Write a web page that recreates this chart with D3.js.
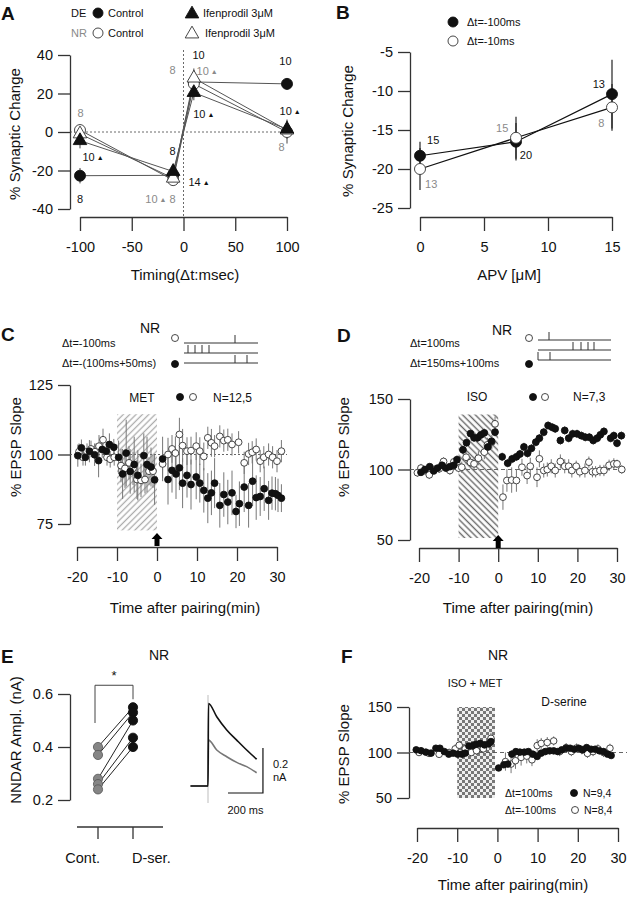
<!DOCTYPE html>
<html><head><meta charset="utf-8">
<script src="https://cdn.jsdelivr.net/npm/d3@7"></script>
<style>body{margin:0;background:#fff} svg{display:block}</style>
</head><body><svg id="c" width="627" height="900"></svg>
<script>
// ---------------- DATA ----------------
// Panel A
const aTiming = [-100, -10, 10, 100];
const aDECtrl = [-22.7, -22.5, 26, 25];
const aDECtrlErr = [4, 2, 3, 3];
const aNRCtrl = [1, -25, 25, 0];
const aNRCtrlErr = [3, 3, 7, 6];
const aDEIfen = [-4.5, -20.5, 20.5, 1.5];
const aDEIfenErr = [4, 3, 4, 5];
const aNRIfen = [-1, -24, 28, 1];
const aNRIfenErr = [2, 3, 5, 3];
const aXTicks = [-100, -50, 0, 50, 100];
const aYTicks = [-40, -20, 0, 20, 40];
const aLabels = [
  {t:-99.5, v:9.8, txt:"8", tri:false, gray:true, anchor:"middle"},
  {t:-97.6, v:-13, txt:"10", tri:true, gray:false, anchor:"start"},
  {t:-100, v:-35, txt:"8", tri:false, gray:false, anchor:"middle"},
  {t:-10.6, v:-10, txt:"8", tri:false, gray:false, anchor:"middle"},
  {t:-16.4, v:-35, txt:"10", tri:true, gray:true, anchor:"end"},
  {t:-10.6, v:-35, txt:"8", tri:false, gray:true, anchor:"middle"},
  {t:4.8, v:-26, txt:"14", tri:true, gray:false, anchor:"start"},
  {t:14.5, v:39.8, txt:"10", tri:false, gray:false, anchor:"middle"},
  {t:-10.6, v:32, txt:"8", tri:false, gray:true, anchor:"middle"},
  {t:12.6, v:31.5, txt:"10", tri:true, gray:true, anchor:"start"},
  {t:9.4, v:9.3, txt:"10", tri:true, gray:false, anchor:"start"},
  {t:98.5, v:37, txt:"10", tri:false, gray:false, anchor:"middle"},
  {t:92.8, v:10.9, txt:"10", tri:true, gray:false, anchor:"start"},
  {t:94.7, v:-7.8, txt:"8", tri:false, gray:true, anchor:"middle"}
];
// Panel B
const bAPV = [0, 7.5, 15];
const b100 = [-18.3, -16.5, -10.4];
const b100Err = [1.8, 2.4, 4.4];
const b10 = [-20, -16, -12.1];
const b10Err = [2.7, 2.7, 3];
const bXTicks = [0, 5, 10, 15];
const bYTicks = [-25, -20, -15, -10, -5];
const bLabels = [
  {apv:0.55, v:-16.3, txt:"15", gray:false, anchor:"start"},
  {apv:0.4, v:-21.9, txt:"13", gray:true, anchor:"start"},
  {apv:6.9, v:-14.7, txt:"15", gray:true, anchor:"end"},
  {apv:7.8, v:-18.2, txt:"20", gray:false, anchor:"start"},
  {apv:14.45, v:-9.1, txt:"13", gray:false, anchor:"end"},
  {apv:14.4, v:-14.1, txt:"8", gray:true, anchor:"end"}
];
// Time-course ticks
const timeTicks = [-20, -10, 0, 10, 20, 30];
// Panel C
const cFilledT = [-19.8,-18.9,-17.9,-16.9,-15.6,-14.6,-13.7,-12.7,-11.9,-10.8,-9.6,-8.6,-7.7,-6.7,-5.7,-4.8,-3.3,-2.5,-1.5,-0.6,1.4,2.75,3.75,4.75,5.6,6.4,7.5,8.5,9.8,10.7,11.7,12.7,13.6,14.4,15.7,16.7,17.7,18.75,19.75,20.6,21.8,22.9,23.9,24.8,25.8,26.8,27.9,28.75,29.6,30.25,31.1];
const cFilled = [99.6,102.4,99,101.2,99.9,97.8,101.8,101.2,103.6,102.6,99,93,100.5,93.9,96.4,92.5,99.6,96.4,95.5,90.9,98.4,91,94.3,93,95.2,89.7,92.5,89.2,91.9,89.7,87.1,84.3,86.2,89.7,81.7,85.6,82.9,86.2,79.5,82.3,88.3,81.7,90.4,84.5,84.9,87.7,83.5,86.1,85.9,85.3,84.3];
const cFilledErr = [4,3,3,4,4,6,3,3,4,3,6,9,12,8,10,9,8,10,7,9,8,9,8,9,8,9,8,9,8,7,8,9,8,9,8,8,8,8,6,8,9,8,9,8,7,8,7,6,6,6,5];
const cOpenT = [-19.5,-18.5,-17.5,-16.5,-15.5,-14.5,-13.5,-12.5,-11.7,-10.7,-9,-8,-7,-6,-5,-4,-3,-2,-1,1.4,2.75,3.75,4.6,5.6,6.4,7.5,8.5,9.8,10.7,11.7,12.7,13.6,14.4,15.7,16.7,17.7,18.75,20.4,21.8,22.9,23.8,24.8,25.8,26.7,27.9,28.9,30,31.1];
const cOpen = [101,99,101,102,101,103,105.3,99,98.3,99,96,95,97,95,91,90.7,91,94,94,96.6,100,102,100.5,107.2,103.2,101.2,101.4,103,101.2,99.3,106,104.2,103,106.5,105,105.3,103.6,104.4,97,100.2,100.8,101.8,97.6,99,100,99,97.6,101.2];
const cOpenErr = [3,3,3,3,3,4,4,3,3,3,6,7,6,6,7,6,5,5,6,5,6,5,6,6,6,5,5,5,5,5,4,5,4,4,4,4,4,4,4,4,4,4,4,4,4,4,4,4];
const cYTicks = [75, 100, 125];
const cSpikeTop = [51];
const cSpikeMid = [4, 11, 18, 25];
const cSpikeBot = [51, 63];
// Panel D
const dFilledT = [-19.5,-18.5,-17.3,-16.3,-15.3,-14.2,-13.2,-12.2,-11.2,-10.4,-8.9,-8,-7,-6.1,-5.2,-4.4,-3.5,-2.6,-1.7,-0.8,1,2.4,3.5,4.6,5.5,6.5,7.4,8.4,9.5,10.4,11.5,12.6,13.6,14.4,15.7,16.8,17.8,18.8,19.9,21,22,23,24,25,25.8,26.7,28.4,29.2,30,31.1];
const dFilled = [98,100,102,99,101,103,101,102,103,107,114,119,125.5,122.5,122.5,124.5,126,116,120,126.5,109,104.5,107.5,109,111,116,111.5,115,119.4,122.2,126.5,131.2,130,128.9,120.6,127.7,122.2,125.3,125.3,124,122.9,122.9,120.6,122.2,124.6,127,122.2,124,118.7,124];
const dFilledErr = [2,2,2,2,2,2,2,2,2,3,3,3,3,3,3,3,3,3,3,3,3,3,3,3,3,3,3,3,3,3,3,3,3,3,3,3,3,3,3,3,3,3,3,3,3,3,3,3,3,3];
const dOpenT = [-20.4,-19.5,-18.5,-17.4,-16.2,-14.9,-13.8,-12.2,-11.2,-10,-9.2,-8.1,-7,-6.1,-5,-3.5,-2.7,-1.6,-0.8,1.2,2.2,3.4,4.6,6,7.3,8.1,9.8,10.4,11.5,12.4,13.4,14.4,15.7,16.8,17.8,18.6,19.7,20.6,21.9,22.9,23.8,24.6,25.7,26.7,28,29.2,30,31.2];
const dOpen = [97.7,101,99.3,96.2,100,100.5,105.7,99.3,105.4,101,101.6,108.7,105,104,108,112.3,117.5,119.6,132.4,80.4,92.2,92.5,92.2,101.6,95.7,102.3,94.5,107.6,99.3,100,102.3,99.3,105.7,102.3,102.3,99.3,102.3,98.4,99.3,105.2,98.4,98.4,99.3,99.3,103,104,104,100];
const dOpenErr = [3,3,3,3,3,3,3,3,3,3,4,5,4,5,5,5,5,5,5,9,8,9,8,6,6,6,7,6,5,5,5,5,5,5,5,5,4,4,5,4,4,4,4,4,4,4,3,3];
const dYTicks = [50, 100, 150];
const dSpikeTop = [11];
const dSpikeMid = [35, 43, 50, 56];
const dSpikeBot = [0, 12];
// Panel E
const eCats = ["Cont.", "D-ser."];
const eCont = [0.40, 0.37, 0.28, 0.26, 0.24];
const eDser = [0.55, 0.53, 0.50, 0.435, 0.40];
const eYTicks = [0.2, 0.4, 0.6];
const eTraceT = [-100, -60, -20, 0, 3, 50, 107, 164, 221, 278];
const eTraceDser = [0, 0, 0, 0, 0.367, 0.308, 0.249, 0.204, 0.16, 0.119];
const eTraceCont = [0, 0, 0, 0, 0.204, 0.16, 0.13, 0.105, 0.086, 0.059];
// Panel F
const fFilledT = [-20.2,-19,-17.8,-16.5,-15.3,-14.3,-13.2,-12.1,-11,-9.9,-8.8,-8,-7.1,-6.1,-5.3,-4.3,-3.2,-2.2,-1.6,0.3,1.6,2.6,3.6,4.6,5.6,6.7,7.7,8.8,9.9,10.9,11.9,13,14,15,16,17.1,18.1,19.1,20.2,21.2,22.2,23.3,24.3,25.4,26.4,27.4,28.3];
const fFilled = [102.9,102,100.4,99.3,104.7,104.7,101,98.2,99.3,98.2,98.2,99.3,107.2,107.6,109,110,108.3,109.4,112,83,86.6,87.3,98.2,101,100.4,100.4,101,98.2,95.7,99.3,101,101.8,101.8,101,102.9,104.7,104.7,103.6,104.7,102.9,105.4,103.6,103.6,101.8,101,98.2,96.7];
const fFilledErr = [2,2,2,2,3,3,2,2,2,2,2,2,3,3,3,3,3,3,4,3,4,4,4,3,3,3,3,3,3,3,3,3,3,3,3,3,3,3,3,3,3,3,3,3,3,3,3];
const fOpenT = [-19.5,-17,-14.5,-12,-10.5,-9.5,-8,-6.5,-5.2,-3.5,-1.6,2,3.4,4.5,5.9,7.3,8.6,9.9,10.9,12.4,14,15.5,17.1,18.4,19.7,21,22.4,23.8,25,26.4,28];
const fOpen = [100,99,98,100,104,108,104,100,102,104,115.6,90,87.3,91,94.6,96,92,107.6,110,111,112.7,101,105.4,101,105,103,99,101,104,100,104.7];
const fOpenErr = [3,3,3,4,5,5,4,4,5,5,6,10,10,9,9,8,7,7,6,6,5,5,5,5,5,5,5,5,5,5,5];
const fYTicks = [50, 100, 150];

// ---------------- DRAWING ----------------
const FONT = '"Liberation Sans", Arial, Helvetica, sans-serif';
const svg = d3.select("#c").attr("font-family", FONT);
const AX = "#333", GRAY = "#8a8a8a";

const defs = svg.append("defs");
const hC = defs.append("pattern").attr("id","hatchC").attr("patternUnits","userSpaceOnUse")
  .attr("width",4.5).attr("height",4.5).attr("patternTransform","rotate(45)");
hC.append("line").attr("x1",2.25).attr("y1",0).attr("x2",2.25).attr("y2",4.5).attr("stroke","#aaa").attr("stroke-width",1.3);
const hD = defs.append("pattern").attr("id","hatchD").attr("patternUnits","userSpaceOnUse")
  .attr("width",4.5).attr("height",4.5).attr("patternTransform","rotate(-45)");
hD.append("line").attr("x1",2.25).attr("y1",0).attr("x2",2.25).attr("y2",4.5).attr("stroke","#666").attr("stroke-width",1.4);
const ck = defs.append("pattern").attr("id","checkF").attr("patternUnits","userSpaceOnUse").attr("width",6).attr("height",6);
ck.append("rect").attr("width",6).attr("height",6).attr("fill","#eee");
ck.append("rect").attr("width",3).attr("height",3).attr("fill","#777");
ck.append("rect").attr("x",3).attr("y",3).attr("width",3).attr("height",3).attr("fill","#777");

function styleAxis(g, fs) {
  g.attr("font-family", null).attr("font-size", null);
  g.select(".domain").attr("stroke", AX).attr("stroke-width", 1.3);
  g.selectAll(".tick line").attr("stroke", AX).attr("stroke-width", 1.3);
  g.selectAll(".tick text").attr("fill", "#111").style("font-size", (fs||14.5) + "px");
}
function yAxis(scale, x, ticks) {
  const g = svg.append("g").attr("transform", `translate(${x},0)`)
    .call(d3.axisLeft(scale).tickValues(ticks).tickSize(12).tickSizeOuter(0).tickPadding(5).tickFormat(d => String(d)));
  styleAxis(g);
  return g;
}
function xAxis(scale, y, ticks) {
  const g = svg.append("g").attr("transform", `translate(0,${y})`)
    .call(d3.axisBottom(scale).tickValues(ticks).tickSize(14).tickSizeOuter(0).tickPadding(11).tickFormat(d => String(d)));
  styleAxis(g);
  return g;
}
function text(x, y, s, opt = {}) {
  return svg.append("text").attr("x", x).attr("y", y).text(s)
    .attr("text-anchor", opt.anchor || "start")
    .attr("fill", opt.fill || "#111")
    .style("font-size", (opt.size || 11) + "px")
    .style("font-weight", opt.bold ? "bold" : null);
}
function yTitle(x, y, s) {
  svg.append("text").attr("transform", `translate(${x},${y}) rotate(-90)`).attr("text-anchor", "middle")
    .attr("fill", "#111").style("font-size", "15px").text(s);
}
function circle(x, y, r, filled, g) {
  return (g || svg).append("circle").attr("cx", x).attr("cy", y).attr("r", r)
    .attr("fill", filled ? "#111" : "#fff").attr("stroke", filled ? "#111" : "#333").attr("stroke-width", 0.9);
}
const triSym = d3.symbol().type(d3.symbolTriangle).size(80);
function tri(x, y, filled, g) {
  return (g || svg).append("path").attr("d", triSym()).attr("transform", `translate(${x},${y})`)
    .attr("fill", filled ? "#111" : "#fff").attr("stroke", filled ? "#111" : "#333").attr("stroke-width", 0.9);
}
function arrowUp(x, yTop, yBot) {
  svg.append("path").attr("d", `M${x},${yTop} L${x+5.5},${yTop+6} L${x+2.5},${yTop+6} L${x+2.5},${yBot} L${x-2.5},${yBot} L${x-2.5},${yTop+6} L${x-5.5},${yTop+6} Z`)
    .attr("fill", "#000");
}

// ===== Panel A =====
{
  const x = d3.scaleLinear().domain([-100, 100]).range([80, 287]);
  const y = d3.scaleLinear().domain([-40, 40]).range([209, 55]);
  text(1, 20, "A", {size: 19, bold: true});
  // legend
  text(71, 17, "DE", {size: 11});
  circle(98, 13, 5, true);
  text(108, 17, "Control", {size: 11});
  text(71, 37, "NR", {size: 11, fill: GRAY});
  circle(98, 33, 5, false);
  text(108, 37, "Control", {size: 11});
  tri(192, 14, true);
  text(203, 17, "Ifenprodil 3\u03bcM", {size: 11});
  tri(192, 34, false);
  text(205, 37, "Ifenprodil 3\u03bcM", {size: 11});

  yAxis(y, 70, aYTicks);
  xAxis(x, 217, aXTicks);
  svg.append("line").attr("x1", 70).attr("x2", x(100)).attr("y1", y(0)).attr("y2", y(0))
    .attr("stroke", "#444").attr("stroke-width", 0.8).attr("stroke-dasharray", "2,2");
  svg.append("line").attr("x1", x(0)).attr("x2", x(0)).attr("y1", 50).attr("y2", 217)
    .attr("stroke", "#444").attr("stroke-width", 0.8).attr("stroke-dasharray", "2,2");

  const series = [
    {v: aDECtrl, e: aDECtrlErr, shape: "c", fill: true},
    {v: aNRCtrl, e: aNRCtrlErr, shape: "c", fill: false},
    {v: aNRIfen, e: aNRIfenErr, shape: "t", fill: false},
    {v: aDEIfen, e: aDEIfenErr, shape: "t", fill: true}
  ];
  const line = d3.line().x((d, i) => x(aTiming[i])).y(d => y(d));
  series.forEach(s => {
    svg.append("path").attr("d", line(s.v)).attr("fill", "none").attr("stroke", "#555").attr("stroke-width", 1);
  });
  series.forEach(s => {
    s.v.forEach((v, i) => {
      svg.append("line").attr("x1", x(aTiming[i])).attr("x2", x(aTiming[i]))
        .attr("y1", y(v - s.e[i])).attr("y2", y(v + s.e[i])).attr("stroke", "#444").attr("stroke-width", 1);
    });
  });
  series.forEach(s => {
    s.v.forEach((v, i) => {
      if (s.shape === "c") circle(x(aTiming[i]), y(v), 5.5, s.fill);
      else tri(x(aTiming[i]), y(v), s.fill);
    });
  });
  aLabels.forEach(l => {
    const t = svg.append("text").attr("x", x(l.t)).attr("y", y(l.v)).attr("dy", "0.36em")
      .attr("text-anchor", l.anchor).attr("fill", l.gray ? GRAY : "#111").style("font-size", "11px").text(l.txt);
    if (l.tri) t.append("tspan").attr("dx", 2).attr("dy", -1).style("font-size", "7px").text("\u25b2");
  });
  text(185, 280, "Timing(\u0394t:msec)", {size: 15, anchor: "middle"});
  yTitle(20, 134, "% Synaptic  Change");
}

// ===== Panel B =====
{
  const x = d3.scaleLinear().domain([0, 15]).range([420, 612]);
  const y = d3.scaleLinear().domain([-25, -5]).range([208, 52]);
  text(336, 19, "B", {size: 19, bold: true});
  circle(453, 22, 5, true);
  text(467, 26, "\u0394t=-100ms", {size: 11});
  circle(453, 41, 5, false);
  text(467, 45, "\u0394t=-10ms", {size: 11});
  yAxis(y, 410, bYTicks);
  xAxis(x, 217, bXTicks);
  const line = d3.line().x((d, i) => x(bAPV[i])).y(d => y(d));
  [[b100, b100Err, true], [b10, b10Err, false]].forEach(([v, e]) => {
    svg.append("path").attr("d", line(v)).attr("fill", "none").attr("stroke", "#111").attr("stroke-width", 1.2);
    v.forEach((d, i) => svg.append("line").attr("x1", x(bAPV[i])).attr("x2", x(bAPV[i]))
      .attr("y1", y(d - e[i])).attr("y2", y(d + e[i])).attr("stroke", "#222").attr("stroke-width", 1.2));
  });
  b100.forEach((d, i) => circle(x(bAPV[i]), y(d), 5.5, true));
  b10.forEach((d, i) => circle(x(bAPV[i]), y(d), 5.5, false));
  bLabels.forEach(l => {
    svg.append("text").attr("x", x(l.apv)).attr("y", y(l.v)).attr("dy", "0.36em").attr("text-anchor", l.anchor)
      .attr("fill", l.gray ? GRAY : "#111").style("font-size", "11px").text(l.txt);
  });
  text(509, 280, "APV [\u03bcM]", {size: 15, anchor: "middle"});
  yTitle(353, 131, "% Synaptic  Change");
}

// time-course drawing helper
function timeCourse(x, y, tF, vF, eF, tO, vO, eO, r) {
  const g = svg.append("g");
  [[tO, vO, eO], [tF, vF, eF]].forEach(([t, v, e]) => {
    v.forEach((d, i) => g.append("line").attr("x1", x(t[i])).attr("x2", x(t[i]))
      .attr("y1", y(d - e[i])).attr("y2", y(d + e[i])).attr("stroke", "#777").attr("stroke-width", 1));
  });
  vO.forEach((d, i) => circle(x(tO[i]), y(d), r, false, g));
  vF.forEach((d, i) => circle(x(tF[i]), y(d), r, true, g));
}
function spikes(x0, x1, yTop, topS, midS, botS, g) {
  const s = d3.scaleLinear().domain([0, 74]).range([x0, x0 + 74]);
  const ys = [yTop, yTop + 10, yTop + 20];
  const st = {stroke: "#333", w: 1};
  ys.forEach(yy => svg.append("line").attr("x1", x0).attr("x2", x1).attr("y1", yy).attr("y2", yy).attr("stroke", "#333").attr("stroke-width", 1));
  [[topS, ys[0]], [midS, ys[1]], [botS, ys[2]]].forEach(([arr, yy]) => arr.forEach(v =>
    svg.append("line").attr("x1", s(v)).attr("x2", s(v)).attr("y1", yy).attr("y2", yy - 8).attr("stroke", "#333").attr("stroke-width", 1)));
}

// ===== Panel C =====
{
  const x = d3.scaleLinear().domain([-20, 30]).range([77, 277]);
  const y = d3.scaleLinear().domain([75, 125]).range([524, 385]);
  text(1, 341, "C", {size: 19, bold: true});
  text(150, 333, "NR", {size: 14, anchor: "middle"});
  text(62, 347, "\u0394t=-100ms", {size: 11});
  circle(175, 338, 3.5, false);
  text(62, 367, "\u0394t=-(100ms+50ms)", {size: 11});
  circle(175, 364, 3.5, true);
  spikes(184, 258, 343, cSpikeTop, cSpikeMid, cSpikeBot);
  svg.append("rect").attr("x", x(-10)).attr("width", x(0) - x(-10)).attr("y", y(114.5)).attr("height", y(72.7) - y(114.5))
    .attr("fill", "url(#hatchC)");
  yAxis(y, 70, cYTicks);
  xAxis(x, 547, timeTicks);
  svg.append("line").attr("x1", 70).attr("x2", 287).attr("y1", y(100)).attr("y2", y(100))
    .attr("stroke", "#555").attr("stroke-width", 0.9).attr("stroke-dasharray", "2,2");
  timeCourse(x, y, cFilledT, cFilled, cFilledErr, cOpenT, cOpen, cOpenErr, 3.4);
  text(142, 402, "MET", {size: 12, anchor: "middle"});
  circle(180, 397, 3.5, true);
  circle(193, 397, 3.5, false);
  text(213, 402, "N=12,5", {size: 12});
  arrowUp(x(0), 533, 546);
  text(185, 613, "Time after pairing(min)", {size: 15, anchor: "middle"});
  yTitle(21, 447, "% EPSP Slope");
}

// ===== Panel D =====
{
  const x = d3.scaleLinear().domain([-20, 30]).range([419, 617]);
  const y = d3.scaleLinear().domain([50, 150]).range([540, 399]);
  text(337, 342, "D", {size: 19, bold: true});
  text(502, 335, "NR", {size: 14, anchor: "middle"});
  text(410, 347, "\u0394t=100ms", {size: 11});
  circle(529, 338, 3.5, false);
  text(410, 367, "\u0394t=150ms+100ms", {size: 11});
  circle(529, 364, 3.5, true);
  spikes(538, 611, 340, dSpikeTop, dSpikeMid, dSpikeBot);
  svg.append("rect").attr("x", x(-10)).attr("width", x(0) - x(-10)).attr("y", y(139)).attr("height", y(51.4) - y(139))
    .attr("fill", "url(#hatchD)");
  yAxis(y, 410, dYTicks);
  xAxis(x, 548, timeTicks);
  svg.append("line").attr("x1", 410).attr("x2", 627).attr("y1", y(100)).attr("y2", y(100))
    .attr("stroke", "#555").attr("stroke-width", 0.9).attr("stroke-dasharray", "4,3");
  timeCourse(x, y, dFilledT, dFilled, dFilledErr, dOpenT, dOpen, dOpenErr, 3.4);
  text(477, 401, "ISO", {size: 12, anchor: "middle"});
  circle(533, 397, 3.5, true);
  circle(545, 397, 3.5, false);
  text(573, 401, "N=7,3", {size: 12});
  arrowUp(x(0), 535, 548);
  text(518, 613, "Time after pairing(min)", {size: 15, anchor: "middle"});
  yTitle(349, 447, "% EPSP Slope");
}

// ===== Panel E =====
{
  const x = d3.scalePoint().domain(eCats).range([98, 133]);
  const y = d3.scaleLinear().domain([0.2, 0.6]).range([800, 694]);
  text(1, 663, "E", {size: 19, bold: true});
  text(159, 660, "NR", {size: 14, anchor: "middle"});
  yAxis(y, 70, eYTicks).selectAll(".tick text").text(d => d.toFixed(1));
  // x axis (custom)
  svg.append("line").attr("x1", 77).attr("x2", 163).attr("y1", 827).attr("y2", 827).attr("stroke", AX).attr("stroke-width", 1.3);
  eCats.forEach((c, i) => {
    svg.append("line").attr("x1", x(c)).attr("x2", x(c)).attr("y1", 827).attr("y2", 839).attr("stroke", AX).attr("stroke-width", 1.3);
    text(i === 0 ? x(c) + 2 : x(c) - 1, 863, c, {size: 14.5, anchor: i === 0 ? "end" : "start"});
  });
  // bracket + star
  const bl = x(eCats[0]) - 3, br = x(eCats[1]);
  const topY = y(d3.max(eDser)) - 22;
  svg.append("path").attr("d", `M${bl},${y(d3.max(eCont)) - 24} V${topY} H${br} V${y(d3.max(eDser)) - 8}`)
    .attr("fill", "none").attr("stroke", "#444").attr("stroke-width", 1);
  text((bl + br) / 2, topY - 5, "*", {size: 13, anchor: "middle"});
  eCont.forEach((d, i) => svg.append("line").attr("x1", x(eCats[0])).attr("x2", x(eCats[1]))
    .attr("y1", y(d)).attr("y2", y(eDser[i])).attr("stroke", "#222").attr("stroke-width", 1));
  eCont.forEach(d => svg.append("circle").attr("cx", x(eCats[0])).attr("cy", y(d)).attr("r", 4.6)
    .attr("fill", "#858585").attr("stroke", "#555").attr("stroke-width", 0.8));
  eDser.forEach(d => circle(x(eCats[1]), y(d), 4.6, true));
  yTitle(21, 740, "NNDAR Ampl. (nA)");
  // example traces
  const tx = d3.scaleLinear().domain([0, 200]).range([208, 243]);
  const ty = d3.scaleLinear().domain([0, 0.2]).range([786, 741]);
  svg.append("line").attr("x1", tx(0)).attr("x2", tx(0)).attr("y1", 695).attr("y2", 803).attr("stroke", "#c8c8c8").attr("stroke-width", 1.2);
  const tl = d3.line().x((d, i) => tx(eTraceT[i])).y(d => ty(d)).curve(d3.curveMonotoneX);
  svg.append("path").attr("d", tl(eTraceCont)).attr("fill", "none").attr("stroke", "#777").attr("stroke-width", 1.6);
  svg.append("path").attr("d", tl(eTraceDser)).attr("fill", "none").attr("stroke", "#111").attr("stroke-width", 1.6);
  // scale bar
  const sbx = tx(314), sby = ty(-0.031);
  svg.append("path").attr("d", `M${tx(114)},${sby} H${sbx} V${ty(0.169)}`).attr("fill", "none").attr("stroke", "#111").attr("stroke-width", 1.2);
  text(sbx + 10, 768, "0.2", {size: 11});
  text(sbx + 10, 781, "nA", {size: 11});
  text(tx(214), 814, "200 ms", {size: 11, anchor: "middle"});
}

// ===== Panel F =====
{
  const x = d3.scaleLinear().domain([-20, 30]).range([417, 618]);
  const y = d3.scaleLinear().domain([50, 150]).range([798, 707]);
  text(341, 663, "F", {size: 19, bold: true});
  text(498, 660, "NR", {size: 14, anchor: "middle"});
  text(475, 687, "ISO + MET", {size: 11, anchor: "middle"});
  text(564, 706, "D-serine", {size: 12, anchor: "middle"});
  svg.append("rect").attr("x", x(-10)).attr("width", x(-0.6) - x(-10)).attr("y", y(150)).attr("height", y(50) - y(150))
    .attr("fill", "url(#checkF)");
  yAxis(y, 409, fYTicks);
  xAxis(x, 828, timeTicks);
  svg.append("line").attr("x1", 409).attr("x2", 627).attr("y1", y(100)).attr("y2", y(100))
    .attr("stroke", "#555").attr("stroke-width", 0.9).attr("stroke-dasharray", "4,3");
  timeCourse(x, y, fFilledT, fFilled, fFilledErr, fOpenT, fOpen, fOpenErr, 3.3);
  text(505, 797, "\u0394t=100ms", {size: 10.5});
  circle(574, 793, 3.5, true);
  text(583, 797, "N=9,4", {size: 10.5});
  text(505, 814, "\u0394t=-100ms", {size: 10.5});
  circle(575, 810, 3.5, false);
  text(584, 814, "N=8,4", {size: 10.5});
  text(513, 890, "Time after pairing(min)", {size: 15, anchor: "middle"});
  yTitle(349, 754, "% EPSP Slope");
}
</script></body></html>
